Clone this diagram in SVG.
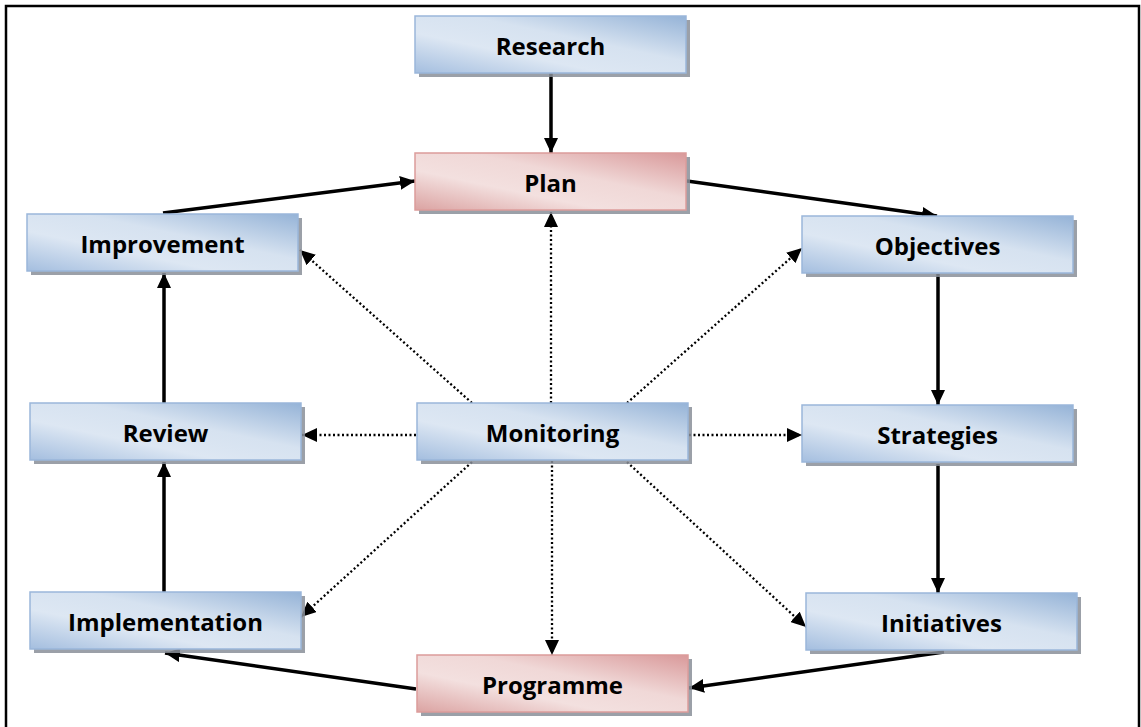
<svg xmlns="http://www.w3.org/2000/svg" width="1141" height="727" viewBox="0 0 1141 727">
<style>
.box{stroke-width:1.5}
.blue{fill:url(#gBlue);stroke:#9ab6da}
.pink{fill:url(#gPink);stroke:#dc9c9b}
.shadow{fill:#8a8f99;opacity:0.85}
.lbl{font-family:"Open Sans",Lato,sans-serif;font-weight:bold;font-size:24px;fill:#000;text-anchor:middle;font-variant-ligatures:none}
.solid{stroke:#000;stroke-width:3.5;fill:none;marker-end:url(#ah)}
.dot{stroke:#000;stroke-width:2.3;stroke-dasharray:2 2.5;fill:none;marker-end:url(#ah2)}
</style>
<defs>
<linearGradient id="gBlue" x1="0" y1="1" x2="1" y2="0">
<stop offset="0" stop-color="#a4bedf"/>
<stop offset="0.35" stop-color="#dde7f3"/>
<stop offset="0.6" stop-color="#d6e2f0"/>
<stop offset="1" stop-color="#95b3d7"/>
</linearGradient>
<linearGradient id="gPink" x1="0" y1="1" x2="1" y2="0">
<stop offset="0" stop-color="#dba3a2"/>
<stop offset="0.35" stop-color="#f3e0df"/>
<stop offset="0.6" stop-color="#f0d8d7"/>
<stop offset="1" stop-color="#d9999a"/>
</linearGradient>
<marker id="ah" markerUnits="userSpaceOnUse" markerWidth="16" markerHeight="14" refX="15" refY="7" orient="auto">
<path d="M0,0 L15,7 L0,14 z" fill="#000"/>
</marker>
<marker id="ah2" markerUnits="userSpaceOnUse" markerWidth="16" markerHeight="14" refX="15" refY="7" orient="auto">
<path d="M0,0 L15,7 L0,14 z" fill="#000"/>
</marker>
</defs>
<rect x="0" y="0" width="1141" height="727" fill="#fff"/>
<rect x="6" y="6" width="1133" height="740" fill="none" stroke="#000" stroke-width="2.5"/>

<g id="connectors">
<line class="solid" x1="551" y1="73" x2="551" y2="153"/>
<line class="solid" x1="163" y1="213" x2="415" y2="181"/>
<line class="solid" x1="687" y1="181" x2="937" y2="216"/>
<line class="solid" x1="938" y1="274" x2="938" y2="405"/>
<line class="solid" x1="938" y1="464" x2="938" y2="593"/>
<line class="solid" x1="944" y1="652" x2="689" y2="688"/>
<line class="solid" x1="416" y1="689" x2="165" y2="653"/>
<line class="solid" x1="164" y1="592" x2="164" y2="462"/>
<line class="solid" x1="164" y1="403" x2="164" y2="273"/>
<line class="dot" x1="551" y1="403" x2="551" y2="212"/>
<line class="dot" x1="552" y1="461" x2="552" y2="655"/>
<line class="dot" x1="416" y1="435" x2="302" y2="435"/>
<line class="dot" x1="689" y1="435" x2="802" y2="435"/>
<line class="dot" x1="472" y1="403" x2="300" y2="250"/>
<line class="dot" x1="627" y1="403" x2="802" y2="248"/>
<line class="dot" x1="472" y1="462" x2="301" y2="617"/>
<line class="dot" x1="627" y1="462" x2="806" y2="627"/>
</g>

<g id="research">
<rect class="shadow" x="419" y="20" width="271" height="57"/>
<rect class="box blue" x="415" y="16" width="271" height="57"/>
<text class="lbl" x="550.5" y="55">Research</text>
</g>
<g id="plan">
<rect class="shadow" x="419" y="157" width="271" height="57"/>
<rect class="box pink" x="415" y="153" width="271" height="57"/>
<text class="lbl" x="550.5" y="192">Plan</text>
</g>
<g id="improvement">
<rect class="shadow" x="31" y="218" width="271" height="57"/>
<rect class="box blue" x="27" y="214" width="271" height="57"/>
<text class="lbl" x="162.5" y="253">Improvement</text>
</g>
<g id="objectives">
<rect class="shadow" x="806" y="220" width="271" height="57"/>
<rect class="box blue" x="802" y="216" width="271" height="57"/>
<text class="lbl" x="937.5" y="255">Objectives</text>
</g>
<g id="monitoring">
<rect class="shadow" x="421" y="407" width="271" height="57"/>
<rect class="box blue" x="417" y="403" width="271" height="57"/>
<text class="lbl" x="552.5" y="442">Monitoring</text>
</g>
<g id="review">
<rect class="shadow" x="34" y="407" width="271" height="57"/>
<rect class="box blue" x="30" y="403" width="271" height="57"/>
<text class="lbl" x="165.5" y="442">Review</text>
</g>
<g id="strategies">
<rect class="shadow" x="806" y="409" width="271" height="57"/>
<rect class="box blue" x="802" y="405" width="271" height="57"/>
<text class="lbl" x="937.5" y="444">Strategies</text>
</g>
<g id="implementation">
<rect class="shadow" x="34" y="596" width="271" height="57"/>
<rect class="box blue" x="30" y="592" width="271" height="57"/>
<text class="lbl" x="165.5" y="631">Implementation</text>
</g>
<g id="initiatives">
<rect class="shadow" x="810" y="597" width="271" height="57"/>
<rect class="box blue" x="806" y="593" width="271" height="57"/>
<text class="lbl" x="941.5" y="632">Initiatives</text>
</g>
<g id="programme">
<rect class="shadow" x="421" y="659" width="271" height="57"/>
<rect class="box pink" x="417" y="655" width="271" height="57"/>
<text class="lbl" x="552.5" y="694">Programme</text>
</g>
</svg>
